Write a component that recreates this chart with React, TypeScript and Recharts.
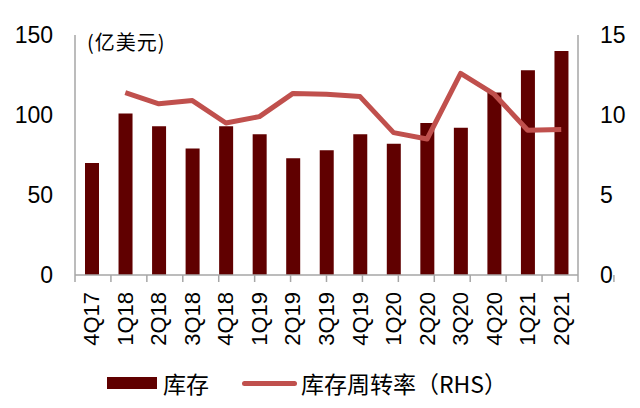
import { ComposedChart, Bar, Line, XAxis, YAxis } from 'recharts';

const quarters = ['4Q17', '1Q18', '2Q18', '3Q18', '4Q18', '1Q19', '2Q19', '3Q19', '4Q19', '1Q20', '2Q20', '3Q20', '4Q20', '1Q21', '2Q21'];
const inventory = [70, 101, 93, 79, 93, 88, 73, 78, 88, 82, 95, 92, 114, 128, 140];
const turnover = [null, 11.4, 10.7, 10.9, 9.5, 9.9, 11.35, 11.3, 11.15, 8.9, 8.5, 12.6, 11.3, 9.05, 9.1];
const leftTicks = [0, 50, 100, 150];
const rightTicks = [0, 5, 10, 15];
const boundaryTicks = [0, 1, 2, 3, 4, 5, 6, 7, 8, 9, 10, 11, 12, 13, 14, 15];

const BAR = '#600000';
const LINE = '#C0504D';
const AXIS = '#a6a6a6';
const FONT = '"Liberation Sans", Arial, sans-serif';
const CJK = '"Noto Sans CJK SC", sans-serif';

const data = quarters.map((q, i) => ({ q, inventory: inventory[i], turnover: turnover[i] }));

function QuarterTick({ x, y, payload }: any) {
  const ty = y + 16;
  return (
    <text
      x={x}
      y={ty}
      transform={`rotate(-90, ${x}, ${ty})`}
      textAnchor="end"
      dominantBaseline="central"
      fontSize={22}
      fontFamily={FONT}
      fill="#000"
    >
      {payload.value}
    </text>
  );
}

export default function App() {
  const tickStyle = { fontSize: 23, fill: '#000', fontFamily: FONT };
  return (
    <div style={{ position: 'absolute', left: 0, top: 0, width: 640, height: 408, background: '#fff' }}>
      <ComposedChart width={640} height={408} data={data} margin={{ top: 35, right: 0, left: 0, bottom: 58 }}>
        {/* hidden numeric axis only to put tick marks on category boundaries */}
        <XAxis
          xAxisId="a"
          type="number"
          domain={[0, 15]}
          ticks={boundaryTicks}
          allowDataOverflow
          height={1}
          tickSize={7}
          tickFormatter={() => ''}
          axisLine={{ stroke: AXIS, strokeWidth: 1.5 }}
          tickLine={{ stroke: AXIS, strokeWidth: 1.5 }}
        />
        <XAxis
          xAxisId="b"
          dataKey="q"
          height={74}
          interval={0}
          axisLine={false}
          tickLine={false}
          tickSize={0}
          tickMargin={0}
          tick={<QuarterTick />}
        />
        <YAxis
          yAxisId="l"
          width={75}
          domain={[0, 150]}
          ticks={leftTicks}
          tickSize={0}
          tickMargin={22}
          tickLine={false}
          axisLine={{ stroke: AXIS, strokeWidth: 1.5 }}
          tick={tickStyle}
        />
        <YAxis
          yAxisId="r"
          orientation="right"
          width={62}
          domain={[0, 15]}
          ticks={rightTicks}
          tickSize={0}
          tickMargin={22}
          tickLine={false}
          axisLine={{ stroke: AXIS, strokeWidth: 1.5 }}
          tick={{ ...tickStyle, textAnchor: 'start' }}
        />
        <Bar xAxisId="b" yAxisId="l" dataKey="inventory" fill={BAR} barSize={14} isAnimationActive={false} />
        <Line
          xAxisId="b"
          yAxisId="r"
          dataKey="turnover"
          stroke={LINE}
          strokeWidth={5}
          dot={false}
          strokeLinejoin="round"
          isAnimationActive={false}
        />
      </ComposedChart>
      <div style={{ position: 'absolute', left: 87, top: 29, fontSize: 20, letterSpacing: 1, fontFamily: CJK, color: '#000', lineHeight: '26px' }}>
        (亿美元)
      </div>
      <div style={{ position: 'absolute', left: 107, top: 368, height: 30, display: 'flex', alignItems: 'center', fontFamily: CJK, fontSize: 23, color: '#000' }}>
        <span style={{ width: 50, height: 12, background: BAR, display: 'inline-block' }} />
        <span style={{ marginLeft: 6 }}>库存</span>
        <span style={{ width: 55, height: 5, borderRadius: 3, background: LINE, display: 'inline-block', marginLeft: 33 }} />
        <span style={{ marginLeft: 4 }}>库存周转率（RHS）</span>
      </div>
    </div>
  );
}
